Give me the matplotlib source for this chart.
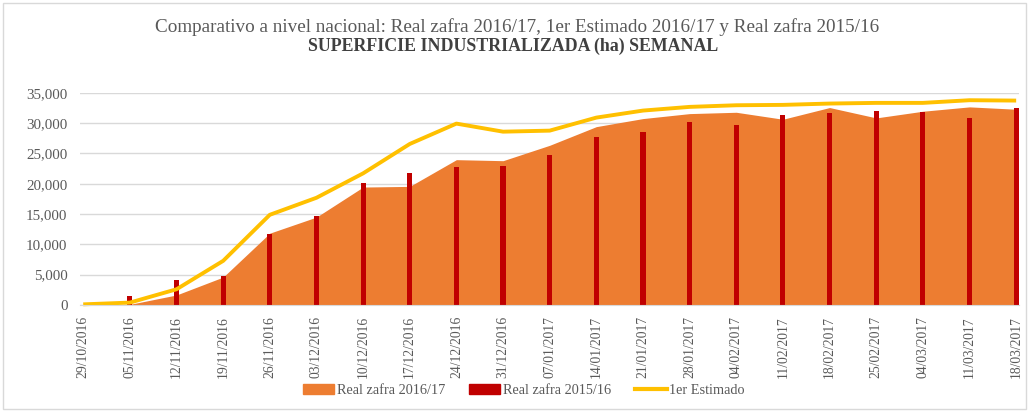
import numpy as np
import matplotlib.pyplot as plt
from matplotlib.patches import Patch, Rectangle
from matplotlib.lines import Line2D
from matplotlib.ticker import FuncFormatter

# weekly dates (categories)
fechas = ['29/10/2016', '05/11/2016', '12/11/2016', '19/11/2016', '26/11/2016',
          '03/12/2016', '10/12/2016', '17/12/2016', '24/12/2016', '31/12/2016',
          '07/01/2017', '14/01/2017', '21/01/2017', '28/01/2017', '04/02/2017',
          '11/02/2017', '18/02/2017', '25/02/2017', '04/03/2017', '11/03/2017',
          '18/03/2017']

# Real zafra 2016/17 (area)
real_1617 = [0, 100, 1650, 4600, 11850, 14500, 19460, 19570, 23980, 23810,
             26350, 29430, 30760, 31580, 31800, 30650, 32580, 30870, 31970,
             32690, 32300]

# Real zafra 2015/16 (bars)
real_1516 = [0, 1500, 4100, 4800, 11700, 14700, 20200, 21800, 22700, 22950,
             24700, 27670, 28500, 30200, 29650, 31300, 31640, 31970, 31860,
             30810, 32460]

# 1er Estimado (line)
estimado = [100, 390, 2590, 7280, 14880, 17690, 21720, 26570, 29930, 28600,
            28770, 30920, 32080, 32690, 32960, 33020, 33240, 33350, 33350,
            33790, 33730]

c_area = '#ED7D31'
c_bar = '#C00000'
c_line = '#FFC000'
c_text = '#595959'

plt.rcParams['font.family'] = ['Liberation Serif', 'DejaVu Serif']

fig = plt.figure(figsize=(10.29, 4.11), dpi=100)
ax = fig.add_axes([0.0777, 0.258, 0.913, 0.516])

x = np.arange(len(fechas))
ax.fill_between(x, real_1617, 0, color=c_area, linewidth=0, zorder=2)
ax.bar(x, real_1516, width=0.11, color=c_bar, zorder=3)
ax.plot(x, estimado, color=c_line, linewidth=2.8, zorder=4, clip_on=False,
        solid_capstyle='butt')

ax.set_xlim(-0.07, 20.07)
ax.set_ylim(0, 35000)
ax.set_yticks(np.arange(0, 35001, 5000))
ax.yaxis.set_major_formatter(FuncFormatter(lambda v, p: f'{int(v):,}'))
ax.set_xticks(x)
ax.set_xticklabels(fechas, rotation=90)
ax.tick_params(axis='both', length=0, colors=c_text)
ax.tick_params(axis='x', labelsize=9.8, pad=8)
ax.tick_params(axis='y', labelsize=10.8, pad=9)

ax.grid(axis='y', color='#d9d9d9', linewidth=1, zorder=0)
ax.set_axisbelow(True)
for s in ['top', 'right', 'left']:
    ax.spines[s].set_visible(False)
ax.spines['bottom'].set_color('#d9d9d9')
ax.spines['bottom'].set_zorder(5)

fig.text(0.503, 0.935, 'Comparativo a nivel nacional: Real zafra 2016/17, 1er Estimado 2016/17 y Real zafra 2015/16',
         ha='center', va='center', fontsize=13.8, color=c_text)
fig.text(0.499, 0.888, 'SUPERFICIE INDUSTRIALIZADA (ha) SEMANAL',
         ha='center', va='center', fontsize=12.9, fontweight='bold', color='#404040')

handles = [Patch(color=c_area), Patch(color=c_bar),
           Line2D([0], [0], color=c_line, linewidth=3)]
labels = ['Real zafra 2016/17', 'Real zafra 2015/16', '1er Estimado']
fig.legend(handles, labels, loc='center', bbox_to_anchor=(0.509, 0.049), ncol=3,
           frameon=False, fontsize=10.3, handlelength=2.17, handletextpad=0.2,
           columnspacing=1.7, labelcolor=c_text)

fig.patches.append(Rectangle((0.003, 0.005), 0.994, 0.988, transform=fig.transFigure,
                             fill=False, edgecolor='#d9d9d9', linewidth=1))

fig.savefig('out.png', dpi=100)
